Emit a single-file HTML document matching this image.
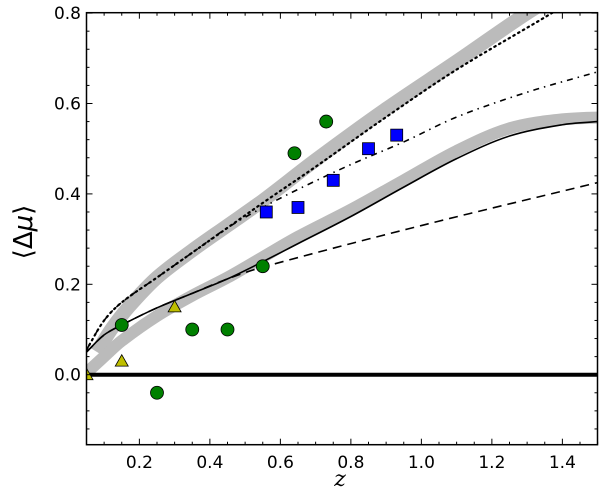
<!DOCTYPE html>
<html><head><meta charset="utf-8"><style>
body{margin:0;background:#fff}
svg{display:block;font-family:"DejaVu Sans","Liberation Sans",sans-serif}
</style></head><body>
<svg id="chart" width="600" height="492" viewBox="0 0 600 492" xmlns="http://www.w3.org/2000/svg">
<defs><clipPath id="clip"><rect x="86.5" y="12.7" width="511" height="432"/></clipPath></defs>
<g id="plot" clip-path="url(#clip)"></g>
<g id="axes"></g>
<text transform="translate(32,232) rotate(-90)" text-anchor="middle" font-size="26">⟨Δ<tspan font-style="italic">μ</tspan>⟩</text>
<text x="340" y="486" text-anchor="middle" font-size="22" font-style="italic" font-family="DejaVu Serif, Liberation Serif, serif">z</text>
</svg>
<script>
const bandUpperZ=[0.08,0.12,0.17,0.25,0.35,0.45,0.55,0.7,0.9,1.1,1.3,1.45];
const bandUpperV=[0.05,0.1,0.15,0.215,0.275,0.33,0.385,0.475,0.588,0.693,0.80,0.87];
const bandLowerZ=[0.03,0.1,0.15,0.25,0.35,0.45,0.55,0.65,0.8,0.95,1.1,1.25,1.4,1.55];
const bandLowerV=[-0.01,0.04,0.075,0.13,0.175,0.215,0.26,0.305,0.365,0.43,0.495,0.545,0.565,0.57];
const solidZ=[0.05,0.1,0.15,0.25,0.35,0.45,0.55,0.65,0.8,0.95,1.1,1.25,1.4,1.5];
const solidV=[0.05,0.088,0.11,0.148,0.18,0.212,0.25,0.29,0.35,0.415,0.478,0.528,0.553,0.56];
const dashedZ=[0.05,0.1,0.15,0.25,0.35,0.45,0.55,1.0,1.5];
const dashedV=[0.05,0.088,0.11,0.148,0.18,0.212,0.238,0.33,0.425];
const dottedZ=[0.05,0.1,0.15,0.25,0.35,0.45,0.55,0.7,0.9,1.1,1.37,1.45];
const dottedV=[0.055,0.12,0.16,0.215,0.27,0.325,0.38,0.46,0.57,0.675,0.80,0.84];
const dashdotZ=[0.05,0.1,0.15,0.25,0.35,0.45,0.55,0.65,0.8,0.95,1.1,1.3,1.5];
const dashdotV=[0.055,0.12,0.16,0.215,0.27,0.325,0.37,0.41,0.465,0.515,0.57,0.625,0.67];
const circleZ=[0.15,0.25,0.35,0.45,0.55,0.64,0.73];
const circleV=[0.11,-0.04,0.10,0.10,0.24,0.49,0.56];
const triZ=[0.05,0.15,0.30];
const triV=[0.0,0.03,0.15];
const sqZ=[0.56,0.65,0.75,0.85,0.93];
const sqV=[0.36,0.37,0.43,0.50,0.53];
const xTicks=[0.2,0.4,0.6,0.8,1.0,1.2,1.4];
const xTickLabels=["0.2","0.4","0.6","0.8","1.0","1.2","1.4"];
const yTicks=[0.0,0.2,0.4,0.6,0.8];
const yTickLabels=["0.0","0.2","0.4","0.6","0.8"];

const L=86.5,R=597.5,T=12.7,B=444.7;
const X=z=>L+(z-0.05)*352.5;
const Y=v=>374.7-v*452;
const NS="http://www.w3.org/2000/svg";
const plot=document.getElementById('plot'),axes=document.getElementById('axes');
function mk(tag,attrs,parent){const e=document.createElementNS(NS,tag);for(const k in attrs)e.setAttribute(k,attrs[k]);parent.appendChild(e);return e;}
function pathD(zs,vs){const p=zs.map((z,i)=>[X(z),Y(vs[i])]);let d=`M${p[0][0]},${p[0][1]}`;
 for(let i=0;i<p.length-1;i++){const p0=p[i-1]||p[i],p1=p[i],p2=p[i+1],p3=p[i+2]||p2;
  const d01=Math.hypot(p2[0]-p1[0],p2[1]-p1[1]);
  const t1=[(p2[0]-p0[0]),(p2[1]-p0[1])],t2=[(p3[0]-p1[0]),(p3[1]-p1[1])];
  const n1=Math.hypot(...t1)||1,n2=Math.hypot(...t2)||1;
  const c1=[p1[0]+t1[0]/n1*d01/3,p1[1]+t1[1]/n1*d01/3],c2=[p2[0]-t2[0]/n2*d01/3,p2[1]-t2[1]/n2*d01/3];
  d+=` C${c1[0]},${c1[1]} ${c2[0]},${c2[1]} ${p2[0]},${p2[1]}`;}return d;}
let e;
e=mk('path',{d:pathD(bandUpperZ,bandUpperV),fill:'none',stroke:'#bbb','stroke-width':14},plot);


e=mk('path',{d:pathD(bandLowerZ,bandLowerV),fill:'none',stroke:'#bbb','stroke-width':12},plot);


e=mk('line',{x1:L,x2:R,y1:Y(0),y2:Y(0),stroke:'#000','stroke-width':4},plot);


e=mk('path',{d:pathD(dottedZ,dottedV),fill:'none',stroke:'#000','stroke-width':2.2,'stroke-dasharray':'1.5 4','stroke-linecap':'round'},plot);


e=mk('path',{d:pathD(dashdotZ,dashdotV),fill:'none',stroke:'#000','stroke-width':1.6,'stroke-dasharray':'6 5 1.5 5'},plot);


e=mk('path',{d:pathD(dashedZ,dashedV),fill:'none',stroke:'#000','stroke-width':1.6,'stroke-dasharray':'9 6'},plot);


e=mk('path',{d:pathD(solidZ,solidV),fill:'none',stroke:'#000','stroke-width':1.6},plot);


circleZ.forEach((z,i)=>{const c=mk('circle',{cx:X(z),cy:Y(circleV[i]),r:6.5,fill:'#008000',stroke:'#000','stroke-width':0.8},plot);

});
triZ.forEach((z,i)=>{const x=X(z),y=Y(triV[i]);const t=mk('polygon',{points:`${x},${y-6.5} ${x-6.5},${y+5} ${x+6.5},${y+5}`,fill:'#bfbf00',stroke:'#000','stroke-width':0.8},plot);

});
sqZ.forEach((z,i)=>{const s=mk('rect',{x:X(z)-6,y:Y(sqV[i])-6,width:12,height:12,fill:'#0000ff',stroke:'#000','stroke-width':0.8},plot);

});
e=mk('rect',{x:L,y:T,width:R-L,height:B-T,fill:'none',stroke:'#000','stroke-width':1.5},axes);


for(let k=1;k<=29;k++){const z=0.05*k+0.05;if(z>1.5001)break;const x=X(z);const major=Math.abs(z*5-Math.round(z*5))<1e-6;const len=major?6:3;
 mk('line',{x1:x,x2:x,y1:B,y2:B-len,stroke:'#000'},axes);mk('line',{x1:x,x2:x,y1:T,y2:T+len,stroke:'#000'},axes);}
for(let k=-3;k<=20;k++){const v=k*0.04;const y=Y(v);if(y>B||y<T-0.5)continue;const major=k%5===0;const len=major?6:3;
 mk('line',{x1:L,x2:L+len,y1:y,y2:y,stroke:'#000'},axes);mk('line',{x1:R,x2:R-len,y1:y,y2:y,stroke:'#000'},axes);}
xTicks.forEach((z,i)=>{const t=mk('text',{x:X(z),y:468,'text-anchor':'middle','font-size':17},axes);t.textContent=xTickLabels[i];

});
yTicks.forEach((v,i)=>{const t=mk('text',{x:81,y:Y(v)+6,'text-anchor':'end','font-size':17},axes);t.textContent=yTickLabels[i];

});
</script>
</body></html>
